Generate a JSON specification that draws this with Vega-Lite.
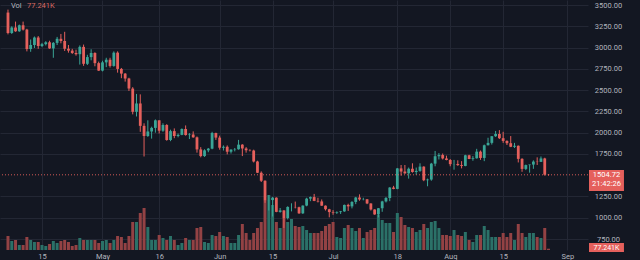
{
"$schema": "https://vega.github.io/schema/vega-lite/v6.json",
"width": 588, "height": 250,
"autosize": {"type": "none"},
"padding": {"left": 0, "top": 0, "right": 52, "bottom": 10},
"background": "#131722",
"config": {"view": {"stroke": null}, "font": "Roboto", "text": {"font": "Roboto"}, "scale": {"continuousPadding": 0}},
"data": {"values": [
{"date":"2022-04-06","open":3411,"high":3446,"low":3155,"close":3171,"volume":840},
{"date":"2022-04-07","open":3171,"high":3250,"low":3160,"close":3236,"volume":540},
{"date":"2022-04-08","open":3236,"high":3305,"low":3185,"close":3191,"volume":600},
{"date":"2022-04-09","open":3191,"high":3270,"low":3185,"close":3262,"volume":300},
{"date":"2022-04-10","open":3262,"high":3305,"low":3200,"close":3211,"volume":300},
{"date":"2022-04-11","open":3211,"high":3220,"low":2955,"close":2982,"volume":780},
{"date":"2022-04-12","open":2982,"high":3095,"low":2950,"close":3030,"volume":600},
{"date":"2022-04-13","open":3030,"high":3130,"low":2995,"close":3118,"volume":480},
{"date":"2022-04-14","open":3118,"high":3135,"low":2985,"close":3018,"volume":480},
{"date":"2022-04-15","open":3018,"high":3055,"low":3005,"close":3040,"volume":300},
{"date":"2022-04-16","open":3040,"high":3075,"low":3025,"close":3062,"volume":240},
{"date":"2022-04-17","open":3062,"high":3080,"low":2985,"close":2990,"volume":360},
{"date":"2022-04-18","open":2990,"high":3065,"low":2880,"close":3055,"volume":540},
{"date":"2022-04-19","open":3055,"high":3125,"low":3030,"close":3103,"volume":420},
{"date":"2022-04-20","open":3103,"high":3160,"low":3050,"close":3077,"volume":540},
{"date":"2022-04-21","open":3077,"high":3185,"low":2960,"close":2986,"volume":600},
{"date":"2022-04-22","open":2986,"high":3030,"low":2940,"close":2964,"volume":480},
{"date":"2022-04-23","open":2964,"high":2985,"low":2925,"close":2936,"volume":240},
{"date":"2022-04-24","open":2936,"high":2975,"low":2905,"close":2922,"volume":300},
{"date":"2022-04-25","open":2922,"high":3025,"low":2800,"close":3008,"volume":720},
{"date":"2022-04-26","open":3008,"high":3035,"low":2785,"close":2809,"volume":600},
{"date":"2022-04-27","open":2809,"high":2915,"low":2795,"close":2888,"volume":600},
{"date":"2022-04-28","open":2888,"high":2980,"low":2850,"close":2936,"volume":600},
{"date":"2022-04-29","open":2936,"high":2945,"low":2780,"close":2817,"volume":600},
{"date":"2022-04-30","open":2817,"high":2835,"low":2725,"close":2729,"volume":420},
{"date":"2022-05-01","open":2729,"high":2845,"low":2720,"close":2826,"volume":540},
{"date":"2022-05-02","open":2826,"high":2880,"low":2770,"close":2857,"volume":600},
{"date":"2022-05-03","open":2857,"high":2880,"low":2765,"close":2784,"volume":420},
{"date":"2022-05-04","open":2784,"high":2955,"low":2775,"close":2940,"volume":600},
{"date":"2022-05-05","open":2940,"high":2955,"low":2705,"close":2749,"volume":840},
{"date":"2022-05-06","open":2749,"high":2760,"low":2640,"close":2694,"volume":780},
{"date":"2022-05-07","open":2694,"high":2700,"low":2600,"close":2636,"volume":420},
{"date":"2022-05-08","open":2636,"high":2645,"low":2490,"close":2518,"volume":840},
{"date":"2022-05-09","open":2518,"high":2535,"low":2215,"close":2245,"volume":1680},
{"date":"2022-05-10","open":2245,"high":2455,"low":2190,"close":2343,"volume":1680},
{"date":"2022-05-11","open":2343,"high":2450,"low":2010,"close":2080,"volume":2220},
{"date":"2022-05-12","open":2080,"high":2110,"low":1720,"close":1961,"volume":2520},
{"date":"2022-05-13","open":1961,"high":2145,"low":1950,"close":2014,"volume":1380},
{"date":"2022-05-14","open":2014,"high":2070,"low":1930,"close":2056,"volume":600},
{"date":"2022-05-15","open":2056,"high":2155,"low":2000,"close":2145,"volume":600},
{"date":"2022-05-16","open":2145,"high":2145,"low":1990,"close":2023,"volume":900},
{"date":"2022-05-17","open":2023,"high":2110,"low":2010,"close":2090,"volume":720},
{"date":"2022-05-18","open":2090,"high":2100,"low":1905,"close":1914,"volume":600},
{"date":"2022-05-19","open":1914,"high":2035,"low":1900,"close":2018,"volume":840},
{"date":"2022-05-20","open":2018,"high":2050,"low":1935,"close":1961,"volume":600},
{"date":"2022-05-21","open":1961,"high":1990,"low":1945,"close":1974,"volume":300},
{"date":"2022-05-22","open":1974,"high":2050,"low":1970,"close":2043,"volume":420},
{"date":"2022-05-23","open":2043,"high":2085,"low":1965,"close":1972,"volume":720},
{"date":"2022-05-24","open":1972,"high":1995,"low":1925,"close":1978,"volume":600},
{"date":"2022-05-25","open":1978,"high":2015,"low":1940,"close":1945,"volume":600},
{"date":"2022-05-26","open":1945,"high":1955,"low":1765,"close":1803,"volume":1320},
{"date":"2022-05-27","open":1803,"high":1830,"low":1710,"close":1725,"volume":1380},
{"date":"2022-05-28","open":1725,"high":1805,"low":1715,"close":1792,"volume":480},
{"date":"2022-05-29","open":1792,"high":1820,"low":1770,"close":1812,"volume":420},
{"date":"2022-05-30","open":1812,"high":2010,"low":1805,"close":1996,"volume":900},
{"date":"2022-05-31","open":1996,"high":2000,"low":1915,"close":1942,"volume":840},
{"date":"2022-06-01","open":1942,"high":1965,"low":1800,"close":1823,"volume":1080},
{"date":"2022-06-02","open":1823,"high":1850,"low":1790,"close":1834,"volume":840},
{"date":"2022-06-03","open":1834,"high":1850,"low":1745,"close":1776,"volume":780},
{"date":"2022-06-04","open":1776,"high":1805,"low":1755,"close":1801,"volume":420},
{"date":"2022-06-05","open":1801,"high":1820,"low":1780,"close":1805,"volume":420},
{"date":"2022-06-06","open":1805,"high":1915,"low":1800,"close":1859,"volume":900},
{"date":"2022-06-07","open":1859,"high":1865,"low":1725,"close":1814,"volume":1560},
{"date":"2022-06-08","open":1814,"high":1830,"low":1765,"close":1793,"volume":1020},
{"date":"2022-06-09","open":1793,"high":1805,"low":1780,"close":1790,"volume":600},
{"date":"2022-06-10","open":1790,"high":1800,"low":1650,"close":1661,"volume":1020},
{"date":"2022-06-11","open":1661,"high":1670,"low":1525,"close":1529,"volume":1320},
{"date":"2022-06-12","open":1529,"high":1545,"low":1420,"close":1435,"volume":1680},
{"date":"2022-06-13","open":1435,"high":1440,"low":1175,"close":1207,"volume":3000},
{"date":"2022-06-14","open":1207,"high":1265,"low":1085,"close":1208,"volume":3300},
{"date":"2022-06-15","open":1208,"high":1245,"low":1015,"close":1236,"volume":2700},
{"date":"2022-06-16","open":1236,"high":1240,"low":1065,"close":1069,"volume":1680},
{"date":"2022-06-17","open":1069,"high":1115,"low":1060,"close":1086,"volume":1320},
{"date":"2022-06-18","open":1086,"high":1090,"low":880,"close":996,"volume":1920},
{"date":"2022-06-19","open":996,"high":1135,"low":980,"close":1127,"volume":1680},
{"date":"2022-06-20","open":1127,"high":1170,"low":1075,"close":1127,"volume":1860},
{"date":"2022-06-21","open":1127,"high":1190,"low":1110,"close":1124,"volume":1440},
{"date":"2022-06-22","open":1124,"high":1130,"low":1045,"close":1052,"volume":1380},
{"date":"2022-06-23","open":1052,"high":1145,"low":1045,"close":1143,"volume":1440},
{"date":"2022-06-24","open":1143,"high":1235,"low":1135,"close":1225,"volume":1200},
{"date":"2022-06-25","open":1225,"high":1250,"low":1195,"close":1243,"volume":1020},
{"date":"2022-06-26","open":1243,"high":1280,"low":1195,"close":1198,"volume":1020},
{"date":"2022-06-27","open":1198,"high":1235,"low":1180,"close":1192,"volume":1020},
{"date":"2022-06-28","open":1192,"high":1215,"low":1140,"close":1142,"volume":1140},
{"date":"2022-06-29","open":1142,"high":1145,"low":1085,"close":1100,"volume":1440},
{"date":"2022-06-30","open":1100,"high":1105,"low":1005,"close":1067,"volume":1560},
{"date":"2022-07-01","open":1067,"high":1090,"low":1035,"close":1060,"volume":1680},
{"date":"2022-07-02","open":1060,"high":1075,"low":1045,"close":1067,"volume":780},
{"date":"2022-07-03","open":1067,"high":1080,"low":1045,"close":1075,"volume":720},
{"date":"2022-07-04","open":1075,"high":1155,"low":1070,"close":1151,"volume":1320},
{"date":"2022-07-05","open":1151,"high":1165,"low":1080,"close":1134,"volume":1500},
{"date":"2022-07-06","open":1134,"high":1195,"low":1110,"close":1186,"volume":1320},
{"date":"2022-07-07","open":1186,"high":1245,"low":1160,"close":1238,"volume":1140},
{"date":"2022-07-08","open":1238,"high":1275,"low":1200,"close":1215,"volume":1320},
{"date":"2022-07-09","open":1215,"high":1235,"low":1205,"close":1217,"volume":720},
{"date":"2022-07-10","open":1217,"high":1220,"low":1160,"close":1168,"volume":1080},
{"date":"2022-07-11","open":1168,"high":1170,"low":1085,"close":1097,"volume":1200},
{"date":"2022-07-12","open":1097,"high":1100,"low":1035,"close":1039,"volume":1320},
{"date":"2022-07-13","open":1039,"high":1115,"low":1005,"close":1112,"volume":2100},
{"date":"2022-07-14","open":1112,"high":1200,"low":1070,"close":1192,"volume":1800},
{"date":"2022-07-15","open":1192,"high":1245,"low":1180,"close":1232,"volume":1620},
{"date":"2022-07-16","open":1232,"high":1360,"low":1195,"close":1355,"volume":1620},
{"date":"2022-07-17","open":1355,"high":1375,"low":1335,"close":1339,"volume":1080},
{"date":"2022-07-18","open":1339,"high":1585,"low":1335,"close":1580,"volume":2220},
{"date":"2022-07-19","open":1580,"high":1620,"low":1495,"close":1543,"volume":1980},
{"date":"2022-07-20","open":1543,"high":1620,"low":1515,"close":1522,"volume":1500},
{"date":"2022-07-21","open":1522,"high":1590,"low":1460,"close":1576,"volume":1380},
{"date":"2022-07-22","open":1576,"high":1640,"low":1530,"close":1538,"volume":1320},
{"date":"2022-07-23","open":1538,"high":1590,"low":1505,"close":1551,"volume":1080},
{"date":"2022-07-24","open":1551,"high":1640,"low":1540,"close":1601,"volume":1200},
{"date":"2022-07-25","open":1601,"high":1605,"low":1430,"close":1441,"volume":1560},
{"date":"2022-07-26","open":1441,"high":1460,"low":1370,"close":1449,"volume":1320},
{"date":"2022-07-27","open":1449,"high":1645,"low":1435,"close":1636,"volume":1680},
{"date":"2022-07-28","open":1636,"high":1785,"low":1605,"close":1723,"volume":1740},
{"date":"2022-07-29","open":1723,"high":1760,"low":1685,"close":1737,"volume":1320},
{"date":"2022-07-30","open":1737,"high":1755,"low":1685,"close":1697,"volume":900},
{"date":"2022-07-31","open":1697,"high":1730,"low":1675,"close":1679,"volume":900},
{"date":"2022-08-01","open":1679,"high":1690,"low":1605,"close":1630,"volume":840},
{"date":"2022-08-02","open":1630,"high":1680,"low":1565,"close":1632,"volume":1200},
{"date":"2022-08-03","open":1632,"high":1675,"low":1610,"close":1619,"volume":900},
{"date":"2022-08-04","open":1619,"high":1665,"low":1580,"close":1609,"volume":840},
{"date":"2022-08-05","open":1609,"high":1740,"low":1605,"close":1734,"volume":1080},
{"date":"2022-08-06","open":1734,"high":1740,"low":1690,"close":1690,"volume":600},
{"date":"2022-08-07","open":1690,"high":1725,"low":1670,"close":1699,"volume":480},
{"date":"2022-08-08","open":1699,"high":1810,"low":1695,"close":1777,"volume":900},
{"date":"2022-08-09","open":1777,"high":1790,"low":1680,"close":1703,"volume":900},
{"date":"2022-08-10","open":1703,"high":1860,"low":1665,"close":1852,"volume":1440},
{"date":"2022-08-11","open":1852,"high":1940,"low":1850,"close":1880,"volume":1200},
{"date":"2022-08-12","open":1880,"high":1960,"low":1860,"close":1958,"volume":780},
{"date":"2022-08-13","open":1958,"high":2020,"low":1950,"close":1984,"volume":780},
{"date":"2022-08-14","open":1984,"high":2030,"low":1925,"close":1935,"volume":780},
{"date":"2022-08-15","open":1935,"high":2010,"low":1880,"close":1903,"volume":1020},
{"date":"2022-08-16","open":1903,"high":1910,"low":1855,"close":1876,"volume":780},
{"date":"2022-08-17","open":1876,"high":1960,"low":1830,"close":1834,"volume":1020},
{"date":"2022-08-18","open":1834,"high":1880,"low":1820,"close":1846,"volume":600},
{"date":"2022-08-19","open":1846,"high":1850,"low":1650,"close":1692,"volume":1560},
{"date":"2022-08-20","open":1692,"high":1700,"low":1540,"close":1574,"volume":1020},
{"date":"2022-08-21","open":1574,"high":1625,"low":1560,"close":1619,"volume":780},
{"date":"2022-08-22","open":1619,"high":1625,"low":1530,"close":1625,"volume":1020},
{"date":"2022-08-23","open":1625,"high":1675,"low":1575,"close":1660,"volume":1020},
{"date":"2022-08-24","open":1660,"high":1710,"low":1620,"close":1657,"volume":780},
{"date":"2022-08-25","open":1657,"high":1720,"low":1655,"close":1697,"volume":720},
{"date":"2022-08-26","open":1697,"high":1705,"low":1495,"close":1507,"volume":1320},
{"date":"2022-08-27","open":1507,"high":1512,"low":1495,"close":1504.72,"volume":77.241}
]},
"encoding": {
  "x": {"field": "date", "type": "temporal",
    "scale": {"type": "utc", "nice": false, "padding": 0, "domain": [1649020800000, 1662460800000]},
    "axis": {"title": null, "values": [
      {"year":2022,"month":4,"date":15,"utc":true},{"year":2022,"month":5,"date":1,"utc":true},{"year":2022,"month":5,"date":16,"utc":true},{"year":2022,"month":6,"date":1,"utc":true},{"year":2022,"month":6,"date":15,"utc":true},{"year":2022,"month":7,"date":1,"utc":true},{"year":2022,"month":7,"date":18,"utc":true},{"year":2022,"month":8,"date":1,"utc":true},{"year":2022,"month":8,"date":15,"utc":true},{"year":2022,"month":9,"date":1,"utc":true}],
      "labelExpr": "utcFormat(datum.value, '%d') == '01' ? utcFormat(datum.value, '%b') : utcFormat(datum.value, '%-d')",
      "domain": false, "ticks": false, "tickSize": 0, "labelPadding": 2, "labelFontSize": 7.5, "labelColor": "#b2b5be", "labelFont": "Roboto", "labelOverlap": false, "labelFlush": false,
      "grid": true, "gridColor": "#232734", "gridWidth": 1}}
},
"layer": [
  {"layer": [
    {"mark": {"type": "bar", "size": 3},
     "encoding": {
       "y": {"field": "volume", "type": "quantitative", "scale": {"domain": [0, 15000], "nice": false, "zero": true, "padding": 0}, "axis": null},
       "color": {"condition": {"test": "datum.close >= datum.open", "value": "#2b7168"}, "value": "#934244"}
     }},
    {"data": {"values": [{"date": "2022-09-06T17:00:00Z", "date2": "2022-09-15T23:00:00Z"}]},
     "mark": {"type": "rect", "color": "#e5605c", "clip": false},
     "encoding": {
       "x2": {"field": "date2"},
       "y": {"datum": 420, "type": "quantitative", "axis": null},
       "y2": {"datum": -120}
     }},
    {"data": {"values": [{"date": "2022-09-11T08:00:00Z", "label": "77.241K"}]},
     "mark": {"type": "text", "color": "#ffffff", "fontSize": 7, "font": "Roboto", "align": "center", "baseline": "middle", "clip": false},
     "encoding": {
       "y": {"datum": 150, "type": "quantitative", "axis": null},
       "text": {"field": "label"}
     }}
  ]},
  {"layer": [
    {"mark": {"type": "rule", "strokeWidth": 1},
     "encoding": {
       "y": {"field": "low", "type": "quantitative", "scale": {"domain": [621.2, 3558.8], "nice": false, "zero": false, "padding": 0},
         "axis": {"orient": "right", "title": null, "values": [750,1250,1750,2250,2750,3250],
           "format": ".2f",
           "domain": false, "ticks": false, "tickSize": 0, "labelPadding": 20, "labelAlign": "center", "labelFontSize": 7.5, "labelFont": "Roboto", "labelColor": "#b2b5be", "labelFlush": false, "labelOverlap": false, "labelBound": false,
           "grid": true, "gridColor": "#232734", "gridWidth": 1}},
       "y2": {"field": "high"},
       "color": {"condition": {"test": "datum.close >= datum.open", "value": "#3aa596"}, "value": "#e5605c"}
     }},
    {"mark": {"type": "bar", "size": 2.8},
     "encoding": {
       "y": {"field": "open", "type": "quantitative",
         "axis": {"orient": "right", "title": null, "values": [1000,2000,2500,3000,3500],
           "format": ".2f",
           "domain": false, "ticks": false, "tickSize": 0, "labelPadding": 20, "labelAlign": "center", "labelFontSize": 7.5, "labelFont": "Roboto", "labelColor": "#b2b5be", "labelFlush": false, "labelOverlap": false, "labelBound": false,
           "grid": true, "gridColor": "#232734", "gridWidth": 1}},
       "y2": {"field": "close"},
       "color": {"condition": {"test": "datum.close >= datum.open", "value": "#3aa596"}, "value": "#e5605c"}
     }},
    {"data": {"values": [{}]},
     "mark": {"type": "rule", "color": "#e5605c", "strokeDash": [1, 2], "strokeWidth": 1, "opacity": 0.9},
     "encoding": {
       "x": null,
       "y": {"datum": 1504.72, "type": "quantitative", "axis": null}
     }},
    {"data": {"values": [{"date": "2022-09-06T17:00:00Z", "date2": "2022-09-15T23:00:00Z"}]},
     "mark": {"type": "rect", "color": "#e5605c", "clip": false},
     "encoding": {
       "x2": {"field": "date2"},
       "y": {"datum": 1561, "type": "quantitative", "axis": null},
       "y2": {"datum": 1314}
     }},
    {"data": {"values": [{"date": "2022-09-11T08:00:00Z", "label": "1504.72", "price": 1503}, {"date": "2022-09-11T08:00:00Z", "label": "21:42:26", "price": 1397}]},
     "mark": {"type": "text", "color": "#ffffff", "fontSize": 7.5, "font": "Roboto", "align": "center", "baseline": "middle", "clip": false},
     "encoding": {
       "y": {"field": "price", "type": "quantitative", "axis": null},
       "text": {"field": "label"}
     }},
    {"data": {"values": [{"date": "2022-04-06T19:00:00Z", "label": "Vol", "tone": "name"}, {"date": "2022-04-11T00:45:00Z", "label": "77.241K", "tone": "value"}]},
     "mark": {"type": "text", "fontSize": 7.5, "font": "Roboto", "align": "left", "baseline": "middle"},
     "encoding": {
       "y": {"datum": 3488, "type": "quantitative", "axis": null},
       "text": {"field": "label"},
       "color": {"field": "tone", "type": "nominal", "scale": {"domain": ["name", "value"], "range": ["#b2b5be", "#d96a63"]}, "legend": null}
     }}
  ],
  "resolve": {"axis": {"y": "independent"}}}
],
"resolve": {"scale": {"y": "independent"}}
}
